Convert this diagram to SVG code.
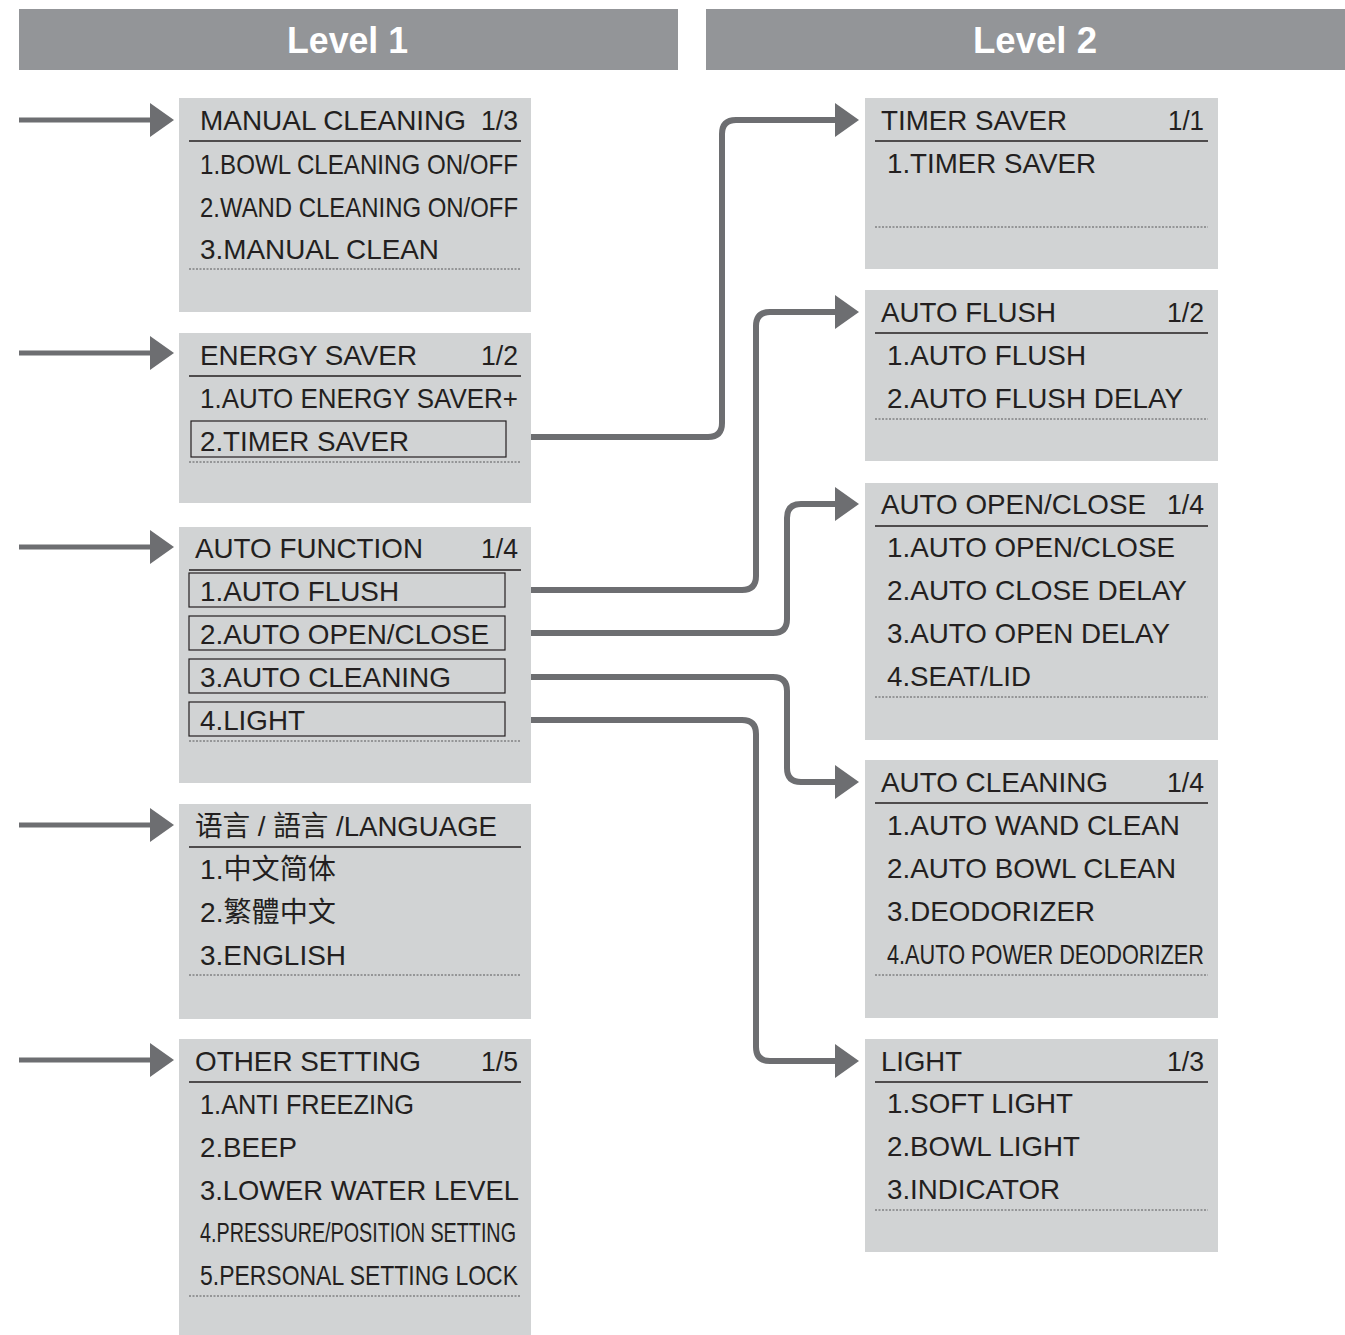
<svg xmlns="http://www.w3.org/2000/svg" width="1345" height="1335" viewBox="0 0 1345 1335">
<style>
.bar{fill:#939598}
.hd{font-family:"Liberation Sans",Arial,sans-serif;font-weight:bold;font-size:36px;fill:#ffffff}
.box{fill:#d1d3d4}
.t{font-family:"Liberation Sans","Noto Sans CJK SC",Arial,sans-serif;font-size:28px;fill:#231f20}
.hl{stroke:#231f20;stroke-width:1.5;fill:none}
.dl{stroke:#58595b;stroke-width:1;stroke-dasharray:2 1.5;fill:none}
.ol{stroke:#231f20;stroke-width:1.2;fill:none}
.cn{stroke:#6d6e71;stroke-width:6;fill:none;marker-end:url(#ah)}
.in{stroke:#6d6e71;stroke-width:5;fill:none;marker-end:url(#ah)}
</style>
<defs>
<marker id="ah" markerUnits="userSpaceOnUse" markerWidth="24" markerHeight="34" viewBox="0 0 24 34" refX="1" refY="17" orient="auto">
<polygon points="0,0 24,17 0,34" fill="#6d6e71"/>
</marker>
</defs>
<rect width="1345" height="1335" fill="#ffffff"/>
<g id="header-level1">
<rect class="bar" x="19" y="9" width="659" height="61"/>
<text class="hd" x="287" y="53" textLength="121" lengthAdjust="spacingAndGlyphs">Level 1</text>
</g>
<g id="header-level2">
<rect class="bar" x="706" y="9" width="639" height="61"/>
<text class="hd" x="973" y="53" textLength="124" lengthAdjust="spacingAndGlyphs">Level 2</text>
</g>

<g id="manual-cleaning">
<rect class="box" x="179" y="98" width="352" height="214"/>
<text class="t" x="200" y="130" textLength="266" lengthAdjust="spacingAndGlyphs">MANUAL CLEANING</text>
<text class="t" x="481" y="130" textLength="37" lengthAdjust="spacingAndGlyphs">1/3</text>
<line class="hl" x1="189" y1="141" x2="521" y2="141"/>
<text class="t" x="200" y="174" textLength="318" lengthAdjust="spacingAndGlyphs">1.BOWL CLEANING ON/OFF</text>
<text class="t" x="200" y="217" textLength="318" lengthAdjust="spacingAndGlyphs">2.WAND CLEANING ON/OFF</text>
<text class="t" x="200" y="259" textLength="239" lengthAdjust="spacingAndGlyphs">3.MANUAL CLEAN</text>
<line class="dl" x1="189" y1="269" x2="521" y2="269"/>
</g>

<g id="energy-saver">
<rect class="box" x="179" y="333" width="352" height="170"/>
<text class="t" x="200" y="365" textLength="217" lengthAdjust="spacingAndGlyphs">ENERGY SAVER</text>
<text class="t" x="481" y="365" textLength="37" lengthAdjust="spacingAndGlyphs">1/2</text>
<line class="hl" x1="189" y1="376" x2="521" y2="376"/>
<text class="t" x="200" y="408" textLength="318" lengthAdjust="spacingAndGlyphs">1.AUTO ENERGY SAVER+</text>
<rect class="ol" x="191" y="421" width="315" height="36"/>
<text class="t" x="200" y="451" textLength="209" lengthAdjust="spacingAndGlyphs">2.TIMER SAVER</text>
<line class="dl" x1="189" y1="462" x2="521" y2="462"/>
</g>

<g id="auto-function">
<rect class="box" x="179" y="527" width="352" height="256"/>
<text class="t" x="195" y="558" textLength="228" lengthAdjust="spacingAndGlyphs">AUTO FUNCTION</text>
<text class="t" x="481" y="558" textLength="37" lengthAdjust="spacingAndGlyphs">1/4</text>
<line class="hl" x1="189" y1="570" x2="521" y2="570"/>
<rect class="ol" x="189" y="573" width="316" height="34"/>
<text class="t" x="200" y="601" textLength="199" lengthAdjust="spacingAndGlyphs">1.AUTO FLUSH</text>
<rect class="ol" x="189" y="616" width="316" height="34"/>
<text class="t" x="200" y="644" textLength="289" lengthAdjust="spacingAndGlyphs">2.AUTO OPEN/CLOSE</text>
<rect class="ol" x="189" y="659" width="316" height="34"/>
<text class="t" x="200" y="687" textLength="251" lengthAdjust="spacingAndGlyphs">3.AUTO CLEANING</text>
<rect class="ol" x="189" y="702" width="316" height="34"/>
<text class="t" x="200" y="730" textLength="105" lengthAdjust="spacingAndGlyphs">4.LIGHT</text>
<line class="dl" x1="189" y1="741" x2="521" y2="741"/>
</g>

<g id="language">
<rect class="box" x="179" y="804" width="352" height="215"/>
<text class="t" x="195" y="836" textLength="302" lengthAdjust="spacingAndGlyphs">语言 / 語言 /LANGUAGE</text>
<line class="hl" x1="189" y1="847" x2="521" y2="847"/>
<text class="t" x="200" y="879" textLength="136" lengthAdjust="spacingAndGlyphs">1.中文简体</text>
<text class="t" x="200" y="922" textLength="136" lengthAdjust="spacingAndGlyphs">2.繁體中文</text>
<text class="t" x="200" y="965" textLength="146" lengthAdjust="spacingAndGlyphs">3.ENGLISH</text>
<line class="dl" x1="189" y1="975" x2="521" y2="975"/>
</g>

<g id="other-setting">
<rect class="box" x="179" y="1039" width="352" height="296"/>
<text class="t" x="195" y="1071" textLength="226" lengthAdjust="spacingAndGlyphs">OTHER SETTING</text>
<text class="t" x="481" y="1071" textLength="37" lengthAdjust="spacingAndGlyphs">1/5</text>
<line class="hl" x1="189" y1="1082" x2="521" y2="1082"/>
<text class="t" x="200" y="1114" textLength="214" lengthAdjust="spacingAndGlyphs">1.ANTI FREEZING</text>
<text class="t" x="200" y="1157" textLength="97" lengthAdjust="spacingAndGlyphs">2.BEEP</text>
<text class="t" x="200" y="1200" textLength="319" lengthAdjust="spacingAndGlyphs">3.LOWER WATER LEVEL</text>
<text class="t" x="200" y="1242" textLength="316" lengthAdjust="spacingAndGlyphs">4.PRESSURE/POSITION SETTING</text>
<text class="t" x="200" y="1285" textLength="318" lengthAdjust="spacingAndGlyphs">5.PERSONAL SETTING LOCK</text>
<line class="dl" x1="189" y1="1296" x2="521" y2="1296"/>
</g>

<g id="timer-saver">
<rect class="box" x="865" y="98" width="353" height="171"/>
<text class="t" x="881" y="130" textLength="186" lengthAdjust="spacingAndGlyphs">TIMER SAVER</text>
<text class="t" x="1168" y="130" textLength="36" lengthAdjust="spacingAndGlyphs">1/1</text>
<line class="hl" x1="875" y1="141" x2="1208" y2="141"/>
<text class="t" x="887" y="173" textLength="209" lengthAdjust="spacingAndGlyphs">1.TIMER SAVER</text>
<line class="dl" x1="875" y1="227" x2="1208" y2="227"/>
</g>

<g id="auto-flush">
<rect class="box" x="865" y="290" width="353" height="171"/>
<text class="t" x="881" y="322" textLength="175" lengthAdjust="spacingAndGlyphs">AUTO FLUSH</text>
<text class="t" x="1167" y="322" textLength="37" lengthAdjust="spacingAndGlyphs">1/2</text>
<line class="hl" x1="875" y1="333" x2="1208" y2="333"/>
<text class="t" x="887" y="365" textLength="199" lengthAdjust="spacingAndGlyphs">1.AUTO FLUSH</text>
<text class="t" x="887" y="408" textLength="296" lengthAdjust="spacingAndGlyphs">2.AUTO FLUSH DELAY</text>
<line class="dl" x1="875" y1="419" x2="1208" y2="419"/>
</g>

<g id="auto-open-close">
<rect class="box" x="865" y="483" width="353" height="257"/>
<text class="t" x="881" y="514" textLength="265" lengthAdjust="spacingAndGlyphs">AUTO OPEN/CLOSE</text>
<text class="t" x="1167" y="514" textLength="37" lengthAdjust="spacingAndGlyphs">1/4</text>
<line class="hl" x1="875" y1="526" x2="1208" y2="526"/>
<text class="t" x="887" y="557" textLength="288" lengthAdjust="spacingAndGlyphs">1.AUTO OPEN/CLOSE</text>
<text class="t" x="887" y="600" textLength="300" lengthAdjust="spacingAndGlyphs">2.AUTO CLOSE DELAY</text>
<text class="t" x="887" y="643" textLength="283" lengthAdjust="spacingAndGlyphs">3.AUTO OPEN DELAY</text>
<text class="t" x="887" y="686" textLength="144" lengthAdjust="spacingAndGlyphs">4.SEAT/LID</text>
<line class="dl" x1="875" y1="697" x2="1208" y2="697"/>
</g>

<g id="auto-cleaning">
<rect class="box" x="865" y="760" width="353" height="258"/>
<text class="t" x="881" y="792" textLength="227" lengthAdjust="spacingAndGlyphs">AUTO CLEANING</text>
<text class="t" x="1167" y="792" textLength="37" lengthAdjust="spacingAndGlyphs">1/4</text>
<line class="hl" x1="875" y1="803" x2="1208" y2="803"/>
<text class="t" x="887" y="835" textLength="293" lengthAdjust="spacingAndGlyphs">1.AUTO WAND CLEAN</text>
<text class="t" x="887" y="878" textLength="289" lengthAdjust="spacingAndGlyphs">2.AUTO BOWL CLEAN</text>
<text class="t" x="887" y="921" textLength="208" lengthAdjust="spacingAndGlyphs">3.DEODORIZER</text>
<text class="t" x="887" y="964" textLength="317" lengthAdjust="spacingAndGlyphs">4.AUTO POWER DEODORIZER</text>
<line class="dl" x1="875" y1="975" x2="1208" y2="975"/>
</g>

<g id="light">
<rect class="box" x="865" y="1039" width="353" height="213"/>
<text class="t" x="881" y="1071" textLength="81" lengthAdjust="spacingAndGlyphs">LIGHT</text>
<text class="t" x="1167" y="1071" textLength="37" lengthAdjust="spacingAndGlyphs">1/3</text>
<line class="hl" x1="875" y1="1082" x2="1208" y2="1082"/>
<text class="t" x="887" y="1113" textLength="186" lengthAdjust="spacingAndGlyphs">1.SOFT LIGHT</text>
<text class="t" x="887" y="1156" textLength="193" lengthAdjust="spacingAndGlyphs">2.BOWL LIGHT</text>
<text class="t" x="887" y="1199" textLength="173" lengthAdjust="spacingAndGlyphs">3.INDICATOR</text>
<line class="dl" x1="875" y1="1210" x2="1208" y2="1210"/>
</g>

<g id="connectors">
<path class="in" d="M19,120 H151"/>
<path class="in" d="M19,353 H151"/>
<path class="in" d="M19,547 H151"/>
<path class="in" d="M19,825 H151"/>
<path class="in" d="M19,1060 H151"/>
<path class="cn" d="M531,437 H708 Q722,437 722,423 V134 Q722,120 736,120 H836"/>
<path class="cn" d="M531,590 H742 Q756,590 756,576 V326 Q756,312 770,312 H836"/>
<path class="cn" d="M531,633 H773 Q787,633 787,619 V518 Q787,504 801,504 H836"/>
<path class="cn" d="M531,677 H773 Q787,677 787,691 V768 Q787,782 801,782 H836"/>
<path class="cn" d="M531,720 H742 Q756,720 756,734 V1047 Q756,1061 770,1061 H836"/>
</g>
</svg>
